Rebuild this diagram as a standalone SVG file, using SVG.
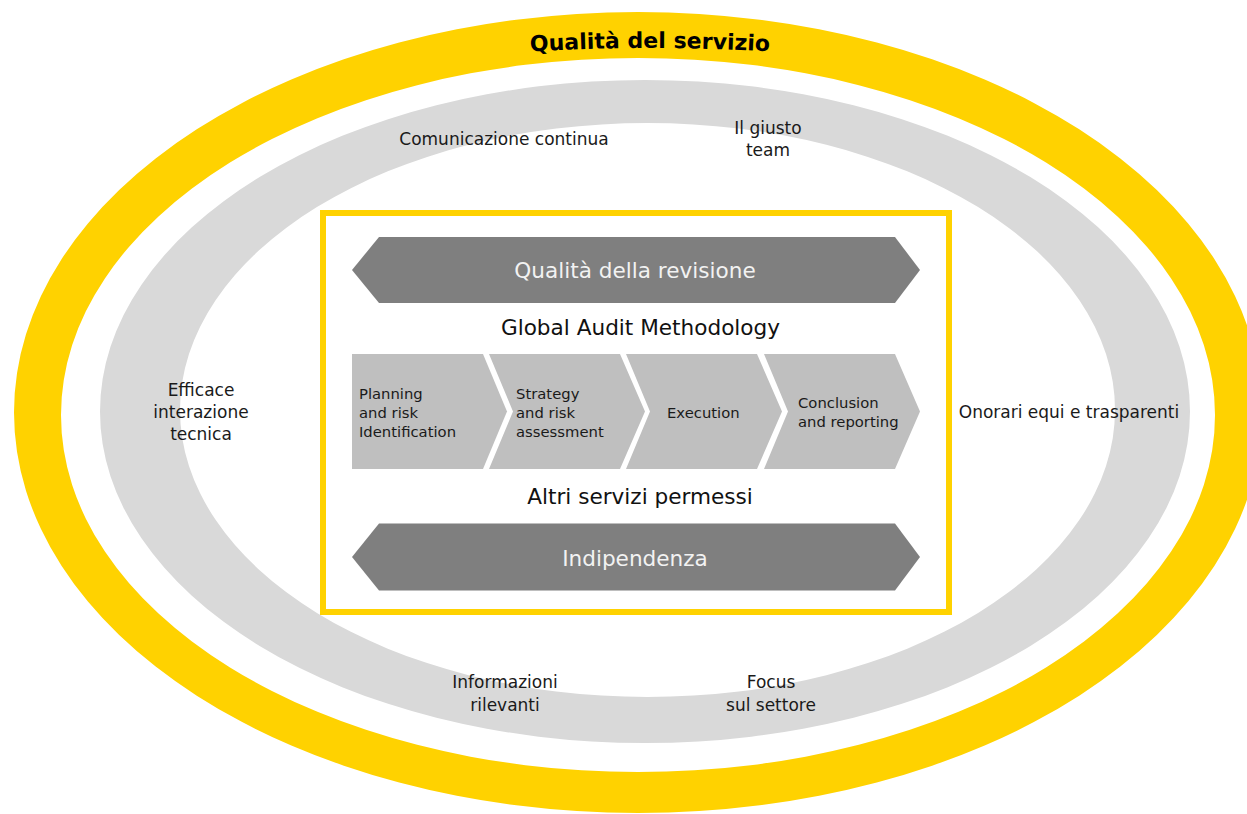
<svg xmlns="http://www.w3.org/2000/svg" xmlns:xlink="http://www.w3.org/1999/xlink" width="1247" height="814" viewBox="0 0 1247 814">
<style>
  .lbl { font-family: "DejaVu Sans", "Liberation Sans", sans-serif; font-size: 17px; fill: #1a1a1a; text-anchor: middle; }
  .big { font-family: "DejaVu Sans", "Liberation Sans", sans-serif; font-size: 21.6px; fill: #111111; text-anchor: middle; }
  .ban { font-family: "DejaVu Sans", "Liberation Sans", sans-serif; font-size: 21.6px; fill: #f2f2f2; text-anchor: middle; }
  .chv { font-family: "DejaVu Sans", "Liberation Sans", sans-serif; font-size: 14.8px; fill: #1a1a1a; }
  .title { font-family: "DejaVu Sans", "Liberation Sans", sans-serif; font-size: 22px; font-weight: bold; fill: #000000; }
  .banner { fill: #7f7f7f; }
  .chevron { fill: #bfbfbf; }
</style>
<defs>
  <path id="titleArc" d="M 480,55 Q 650,41 820,55" fill="none"/>
</defs>
<rect x="0" y="0" width="1247" height="814" fill="#ffffff"/>

<g id="ring-service">
  <path fill="#ffd200" fill-rule="evenodd" d="M 14,412.5 A 624,400.5 0 1 1 1262,412.5 A 624,400.5 0 1 1 14,412.5 Z M 61,415 A 577,357 0 1 0 1215,415 A 577,357 0 1 0 61,415 Z"/>
  <text class="title"><textPath xlink:href="#titleArc" href="#titleArc" startOffset="50%" text-anchor="middle">Qualità del servizio</textPath></text>
</g>

<g id="ring-factors">
  <path fill="#d9d9d9" fill-rule="evenodd" d="M 100,411.5 A 545,331.5 0 1 1 1190,411.5 A 545,331.5 0 1 1 100,411.5 Z M 180,410 A 467.5,287 0 1 0 1115,410 A 467.5,287 0 1 0 180,410 Z"/>
</g>

<g id="label-comunicazione"><text class="lbl" x="504" y="145">Comunicazione continua</text></g>
<g id="label-team"><text class="lbl" x="768" y="133.5">Il giusto</text><text class="lbl" x="768" y="156">team</text></g>
<g id="label-efficace"><text class="lbl" x="201" y="395.5">Efficace</text><text class="lbl" x="201" y="418">interazione</text><text class="lbl" x="201" y="440">tecnica</text></g>
<g id="label-onorari"><text class="lbl" x="1069" y="418">Onorari equi e trasparenti</text></g>
<g id="label-informazioni"><text class="lbl" x="505" y="688">Informazioni</text><text class="lbl" x="505" y="711">rilevanti</text></g>
<g id="label-focus"><text class="lbl" x="771" y="688">Focus</text><text class="lbl" x="771" y="711">sul settore</text></g>

<g id="audit-box">
  <rect x="323" y="213" width="626" height="399" fill="#ffffff" stroke="#ffd200" stroke-width="6"/>
</g>

<g id="banner-qualita">
  <path class="banner" d="M 352,270 L 379,237 L 895,237 L 920,270 L 895,303 L 379,303 Z"/>
  <text class="ban" x="635" y="277.5">Qualità della revisione</text>
</g>

<g id="label-gam"><text class="big" x="640.5" y="335">Global Audit Methodology</text></g>

<g id="step-planning">
  <path class="chevron" d="M 352,354 L 483,354 L 507,411.5 L 483,469 L 352,469 Z"/>
  <text class="chv" x="359" y="399.3">Planning</text>
  <text class="chv" x="359" y="418">and risk</text>
  <text class="chv" x="359" y="436.7">Identification</text>
</g>
<g id="step-strategy">
  <path class="chevron" d="M 489,354 L 620,354 L 645,411.5 L 620,469 L 489,469 L 513,411.5 Z"/>
  <text class="chv" x="516" y="399.3">Strategy</text>
  <text class="chv" x="516" y="418">and risk</text>
  <text class="chv" x="516" y="436.7">assessment</text>
</g>
<g id="step-execution">
  <path class="chevron" d="M 626,354 L 757,354 L 782,411.5 L 757,469 L 626,469 L 650,411.5 Z"/>
  <text class="chv" x="667" y="418.3">Execution</text>
</g>
<g id="step-conclusion">
  <path class="chevron" d="M 764,354 L 895,354 L 920,411.5 L 895,469 L 764,469 L 788,411.5 Z"/>
  <text class="chv" x="798" y="408.3">Conclusion</text>
  <text class="chv" x="798" y="426.7">and reporting</text>
</g>

<g id="label-altri"><text class="big" x="640" y="504">Altri servizi permessi</text></g>

<g id="banner-indipendenza">
  <path class="banner" d="M 352,557 L 379,523.5 L 895,523.5 L 920,557 L 895,590.5 L 379,590.5 Z"/>
  <text class="ban" x="635" y="565.7">Indipendenza</text>
</g>

<g id="connectors"/>
</svg>
